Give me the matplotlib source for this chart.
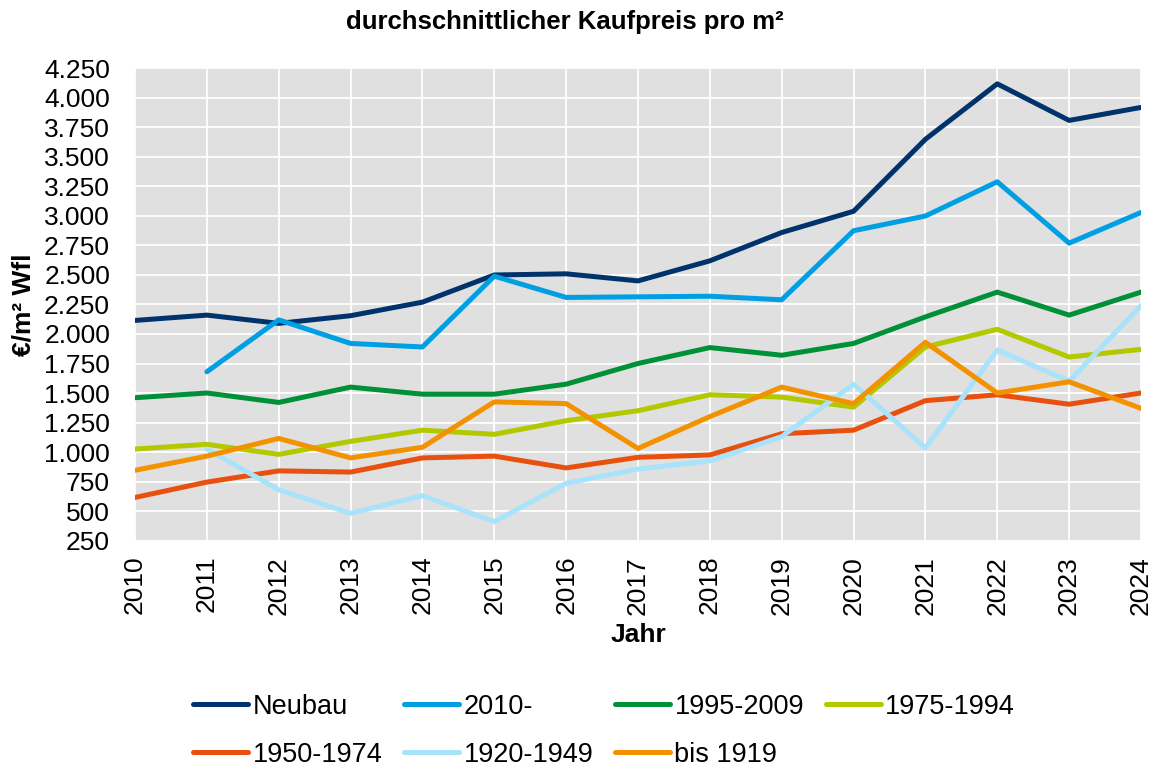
import numpy as np
import matplotlib.pyplot as plt
from matplotlib.ticker import FuncFormatter

plt.rcParams['font.family'] = ['Liberation Sans', 'DejaVu Sans']

# Daten
jahre = list(range(2010, 2025))
neubau = [2115, 2160, 2090, 2155, 2270, 2500, 2510, 2450, 2620, 2860, 3040, 3650, 4120, 3810, 3920]
ab_2010 = [np.nan, 1680, 2120, 1920, 1890, 2490, 2310, 2315, 2320, 2290, 2875, 3000, 3290, 2770, 3030]
b1995_2009 = [1460, 1500, 1420, 1550, 1490, 1490, 1575, 1750, 1885, 1820, 1920, 2145, 2355, 2160, 2355]
b1975_1994 = [1025, 1065, 980, 1090, 1185, 1150, 1265, 1350, 1485, 1465, 1380, 1890, 2040, 1805, 1870]
b1950_1974 = [615, 745, 840, 830, 950, 965, 865, 955, 975, 1155, 1185, 1435, 1485, 1405, 1500]
b1920_1949 = [np.nan, 1025, 680, 480, 630, 410, 735, 855, 925, 1130, 1575, 1035, 1865, 1600, 2240]
bis_1919 = [845, 965, 1115, 950, 1040, 1425, 1410, 1030, 1300, 1550, 1410, 1930, 1500, 1595, 1370]

serien = [
    ('Neubau', neubau, '#00336B'),
    ('2010-', ab_2010, '#009FE3'),
    ('1995-2009', b1995_2009, '#009138'),
    ('1975-1994', b1975_1994, '#B4C800'),
    ('1950-1974', b1950_1974, '#E8500F'),
    ('1920-1949', b1920_1949, '#A8E3FB'),
    ('bis 1919', bis_1919, '#F39200'),
]

fig = plt.figure(figsize=(11.62, 7.67), dpi=100)
ax = fig.add_axes([0.1162, 0.2953, 0.8657, 0.6154])
ax.set_facecolor('#E0E0E0')

linien = {}
for name, werte, farbe in serien:
    l, = ax.plot(jahre, werte, color=farbe, lw=3.6, label=name, solid_capstyle='round')
    linien[name] = l

ax.set_xlim(2010, 2024)
ax.set_ylim(250, 4250)
ax.set_xticks(jahre)
ax.set_yticks(np.arange(250, 4251, 250))
ax.yaxis.set_major_formatter(FuncFormatter(lambda v, p: f'{v:,.0f}'.replace(',', '.')))
ax.grid(True, color='white', lw=1.3)
ax.set_axisbelow(True)
for s in ax.spines.values():
    s.set_visible(False)
ax.tick_params(length=0, labelsize=19)
ax.tick_params(axis='y', pad=18)
ax.tick_params(axis='x', pad=11, labelrotation=90)

fig.text(0.486, 0.971, 'durchschnittlicher Kaufpreis pro m²', fontsize=18.5,
         fontweight='bold', ha='center', va='center')
ax.set_ylabel('€/m² Wfl', fontsize=19, fontweight='bold')
ax.yaxis.set_label_coords(-0.099, 0.5)
ax.set_xlabel('Jahr', fontsize=19, fontweight='bold', labelpad=6)

# Legende zeilenweise wie im Original
reihenfolge = ['Neubau', '1950-1974', '2010-', '1920-1949', '1995-2009', 'bis 1919', '1975-1994']
fig.legend([linien[n] for n in reihenfolge], reihenfolge, ncol=4, frameon=False,
           loc='upper left', bbox_to_anchor=(0.1566, 0.1095), fontsize=19.5,
           handlelength=2.05, handletextpad=0.15, columnspacing=0.8, labelspacing=0.8,
           borderaxespad=0)

fig.savefig('out.png', dpi=100)
